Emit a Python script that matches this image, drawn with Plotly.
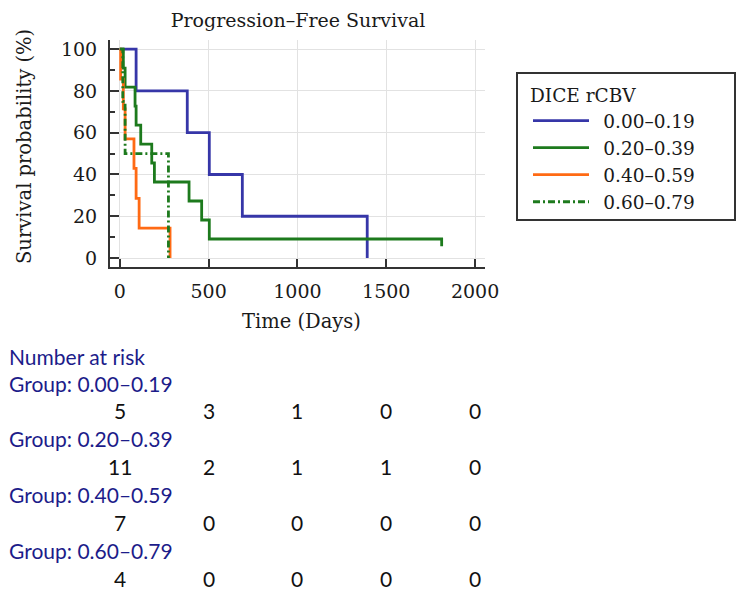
import plotly.graph_objects as go

# ---------------- data ----------------
group_names = ["0.00\u20130.19", "0.20\u20130.39", "0.40\u20130.59", "0.60\u20130.79"]

t_g1 = [0, 92, 380, 504, 690, 1393]
s_g1 = [100, 80, 60, 40, 20, 0]

t_g2 = [0, 20, 30, 86, 92, 118, 180, 195, 390, 461, 504, 1812]
s_g2 = [100, 90.9, 81.8, 72.7, 63.6, 54.5, 45.5, 36.4, 27.3, 18.2, 9.1, 5.6]

t_g3 = [0, 5, 20, 30, 80, 92, 109, 283]
s_g3 = [100, 85.7, 71.4, 57.1, 42.9, 28.6, 14.3, 0]

t_g4 = [0, 17, 30, 274]
s_g4 = [100, 75, 50, 0]

risk_times = [0, 500, 1000, 1500, 2000]
risk_g1 = [5, 3, 1, 0, 0]
risk_g2 = [11, 2, 1, 1, 0]
risk_g3 = [7, 0, 0, 0, 0]
risk_g4 = [4, 0, 0, 0, 0]

x_ticks = [0, 500, 1000, 1500, 2000]
y_ticks = [0, 20, 40, 60, 80, 100]
y_minor = [10, 30, 50, 70, 90]

# ---------------- style ----------------
W, H = 743, 597
ML, MR, MT, MB = 110, 258, 40, 330
PW, PH = W - ML - MR, H - MT - MB
SERIF = "DejaVu Serif"
SANS = "Lato"
TXT = "#1a1a1a"
colors = ["#3636a8", "#1d7a1d", "#ff6a14", "#1d7a1d"]
dashes = ["solid", "solid", "solid", "7px,3px,2px,3px"]
NAVY = "#1c1c8a"


def px_x(p):
    return (p - ML) / PW


def px_y(p):
    return (H - MB - p) / PH


fig = go.Figure()
series = [(t_g1, s_g1), (t_g2, s_g2), (t_g3, s_g3), (t_g4, s_g4)]
for (t, s), name, c, d in zip(series, group_names, colors, dashes):
    fig.add_trace(go.Scatter(
        x=t, y=s, mode="lines", name="\u2002" + name,
        line=dict(color=c, width=2.8, dash=d, shape="hv"),
    ))

fig.update_layout(
    width=W, height=H,
    margin=dict(l=ML, r=MR, t=MT, b=MB, pad=0),
    plot_bgcolor="white", paper_bgcolor="white",
    font=dict(family=SERIF, size=19, color=TXT),
    title=dict(text="Progression\u2013Free Survival", x=298 / W, xanchor="center",
               y=1 - 20 / H, yanchor="middle", yref="container",
               font=dict(family=SERIF, size=19, color=TXT)),
    legend=dict(
        title=dict(text="DICE rCBV", font=dict(family=SERIF, size=18.5, color=TXT)),
        font=dict(family=SERIF, size=18.5, color=TXT),
        x=px_x(528), xanchor="left", y=px_y(78), yanchor="top",
        borderwidth=0, bgcolor="rgba(0,0,0,0)",
        itemwidth=56, tracegroupgap=0,
    ),
    showlegend=True,
)

# legend frame
fig.add_shape(type="rect", xref="paper", yref="paper",
              x0=px_x(517), x1=px_x(735), y0=px_y(220), y1=px_y(73),
              line=dict(color="#333333", width=2), fillcolor="rgba(0,0,0,0)",
              layer="above")

fig.update_xaxes(
    range=[-55, 2056], tickvals=x_ticks, ticks="inside", ticklen=8, tickwidth=2,
    tickcolor="#333333", showline=True, linecolor="#333333", linewidth=2,
    showgrid=True, gridcolor="#e2e2e2", gridwidth=1, zeroline=False,
    tickfont=dict(family=SERIF, size=19, color=TXT), ticklabelstandoff=6,
)
fig.update_yaxes(
    range=[-4.3, 104.4], tickvals=y_ticks, ticks="inside", ticklen=9, tickwidth=2,
    tickcolor="#333333", showline=True, linecolor="#333333", linewidth=2,
    showgrid=True, gridcolor="#e2e2e2", gridwidth=1, zeroline=False,
    tickfont=dict(family=SERIF, size=19, color=TXT),
    minor=dict(tickvals=y_minor, ticks="inside", ticklen=5,
               tickwidth=1.5, tickcolor="#333333", showgrid=False),
    ticklabelstandoff=7,
)

# axis titles
fig.add_annotation(text="Time (Days)", xref="paper", yref="paper",
                   x=px_x(301), y=px_y(321), showarrow=False,
                   xanchor="center", yanchor="middle",
                   font=dict(family=SERIF, size=19.5, color=TXT))
fig.add_annotation(text="Survival probability (%)", xref="paper", yref="paper",
                   x=px_x(24), y=px_y(147), showarrow=False, textangle=-90,
                   xanchor="center", yanchor="middle",
                   font=dict(family=SERIF, size=19.5, color=TXT))

# risk table
fig.add_annotation(text="Number at risk", xref="paper", yref="paper",
                   x=px_x(7), y=px_y(356), showarrow=False,
                   xanchor="left", yanchor="middle",
                   font=dict(family=SANS, size=21, color=NAVY))
row_y = 383
step = 27.9
for name, counts in zip(group_names, [risk_g1, risk_g2, risk_g3, risk_g4]):
    fig.add_annotation(text="Group: " + name, xref="paper", yref="paper",
                       x=px_x(7), y=px_y(row_y), showarrow=False,
                       xanchor="left", yanchor="middle",
                       font=dict(family=SANS, size=21, color=NAVY))
    for tv, n in zip(risk_times, counts):
        fig.add_annotation(text=str(n), xref="x", yref="paper",
                           x=tv, y=px_y(row_y + step), showarrow=False,
                           xanchor="center", yanchor="middle",
                           font=dict(family=SANS, size=21, color="#111111"))
    row_y += 2 * step

fig.write_html("out.html", config={"displayModeBar": False},
               post_script="document.body.style.margin='0';")
